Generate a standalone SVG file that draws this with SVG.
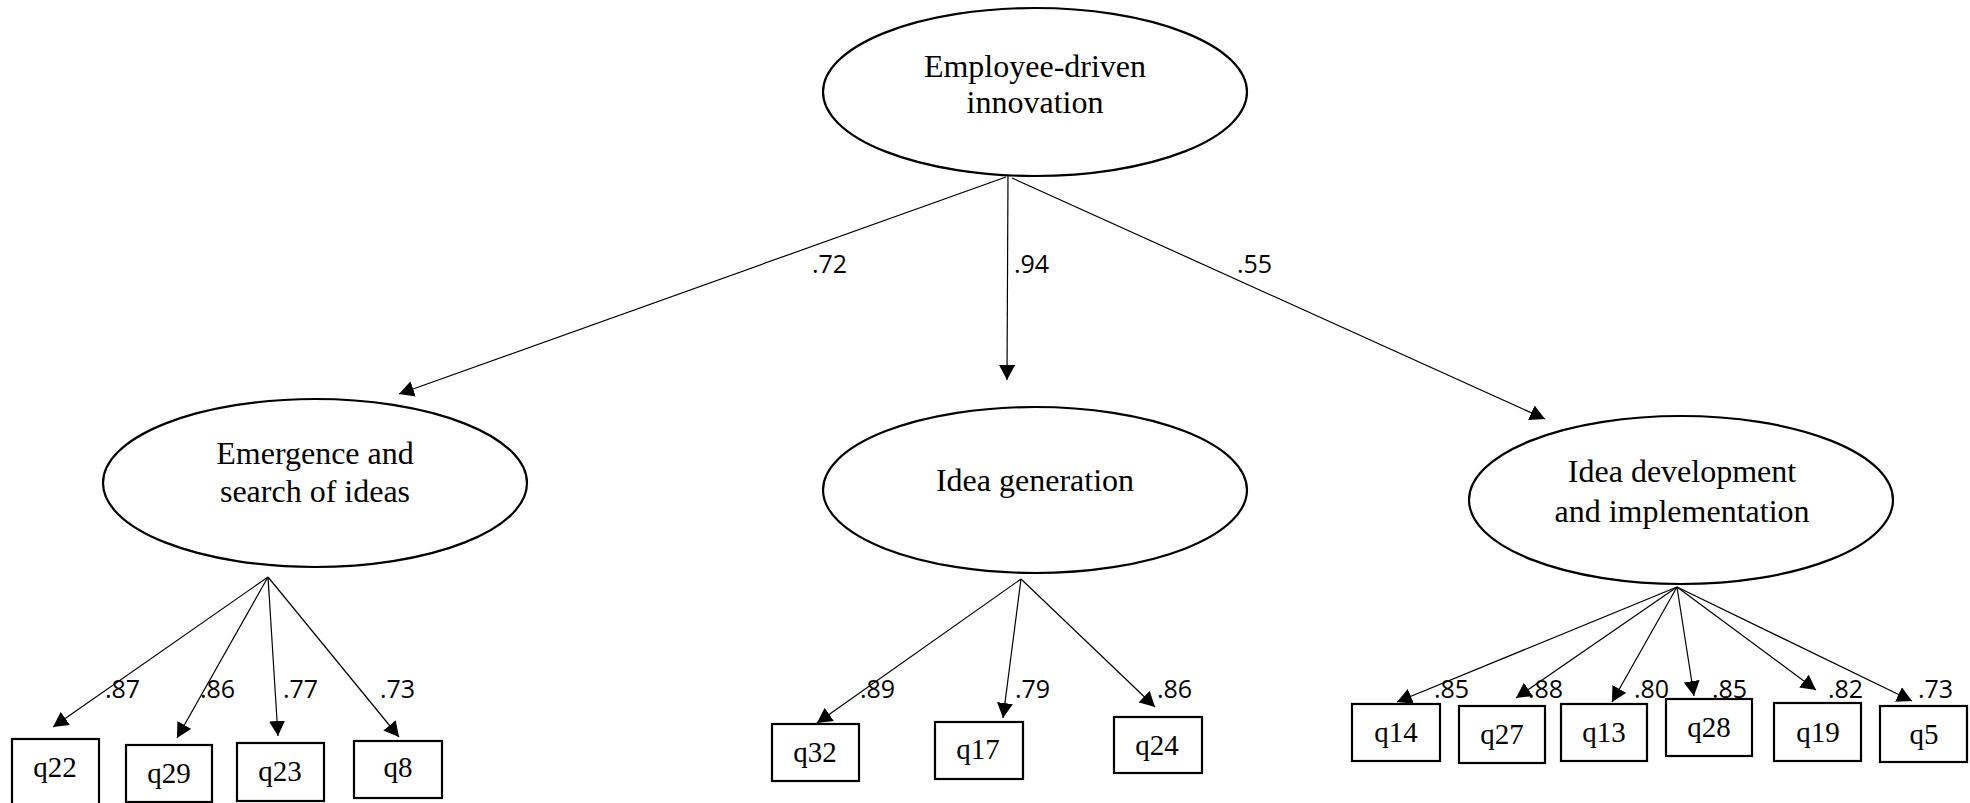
<svg xmlns="http://www.w3.org/2000/svg" width="1970" height="803" viewBox="0 0 1970 803">
  <style>
    .latent { fill: #ffffff; stroke: #000000; stroke-width: 2.2; }
    .item { fill: #ffffff; stroke: #000000; stroke-width: 2.2; }
    .lbl { font-family: "Liberation Serif", "Times New Roman", serif; font-size: 32px; fill: #000000; text-anchor: middle; }
    .qlbl { font-family: "Liberation Serif", "Times New Roman", serif; font-size: 29px; fill: #000000; text-anchor: middle; }
    .coef { font-family: "Open Sans", "Liberation Sans", sans-serif; font-size: 25px; fill: #000000; }
    .path { stroke: #000000; stroke-width: 1.2; fill: none; marker-end: url(#arrow); }
  </style>
  <defs>
    <marker id="arrow" viewBox="0 0 15 16" refX="15" refY="8" markerWidth="15" markerHeight="16" markerUnits="userSpaceOnUse" orient="auto">
      <path d="M0,0 L15,8 L0,16 z" fill="#000000"/>
    </marker>
  </defs>
  <rect width="1970" height="803" fill="#ffffff"/>

  <!-- paths between constructs and indicators -->
  <g id="connectors">
    <line class="path" x1="1006" y1="177" x2="399" y2="394"/>
    <line class="path" x1="1008" y1="175" x2="1007" y2="380"/>
    <line class="path" x1="1012" y1="178" x2="1545" y2="419"/>

    <line class="path" x1="268" y1="577" x2="53" y2="727"/>
    <line class="path" x1="268" y1="577" x2="177" y2="738"/>
    <line class="path" x1="268" y1="577" x2="278" y2="736"/>
    <line class="path" x1="268" y1="577" x2="399" y2="737"/>

    <line class="path" x1="1021" y1="579" x2="817" y2="723"/>
    <line class="path" x1="1021" y1="579" x2="1003" y2="718"/>
    <line class="path" x1="1021" y1="579" x2="1155" y2="707"/>

    <line class="path" x1="1677" y1="587" x2="1397" y2="702"/>
    <line class="path" x1="1677" y1="587" x2="1516" y2="698"/>
    <line class="path" x1="1677" y1="587" x2="1612" y2="702"/>
    <line class="path" x1="1677" y1="587" x2="1694" y2="696"/>
    <line class="path" x1="1677" y1="587" x2="1816" y2="690"/>
    <line class="path" x1="1677" y1="587" x2="1912" y2="701"/>

    <!-- standardized loadings -->
    <text class="coef" x="812" y="273">.72</text>
    <text class="coef" x="1014" y="273">.94</text>
    <text class="coef" x="1237" y="273">.55</text>

    <text class="coef" x="105" y="698">.87</text>
    <text class="coef" x="200" y="698">.86</text>
    <text class="coef" x="283" y="698">.77</text>
    <text class="coef" x="380" y="698">.73</text>

    <text class="coef" x="860" y="698">.89</text>
    <text class="coef" x="1015" y="698">.79</text>
    <text class="coef" x="1157" y="698">.86</text>

    <text class="coef" x="1434" y="698">.85</text>
    <text class="coef" x="1528" y="698">.88</text>
    <text class="coef" x="1634" y="698">.80</text>
    <text class="coef" x="1712" y="698">.85</text>
    <text class="coef" x="1828" y="698">.82</text>
    <text class="coef" x="1918" y="698">.73</text>
  </g>

  <!-- latent constructs -->
  <g id="edi">
    <ellipse class="latent" cx="1035" cy="92" rx="212" ry="84"/>
    <text class="lbl" x="1035" y="77">Employee-driven</text>
    <text class="lbl" x="1035" y="113">innovation</text>
  </g>
  <g id="emergence">
    <ellipse class="latent" cx="315" cy="483" rx="212" ry="84"/>
    <text class="lbl" x="315" y="464">Emergence and</text>
    <text class="lbl" x="315" y="502">search of ideas</text>
  </g>
  <g id="generation">
    <ellipse class="latent" cx="1035" cy="490" rx="212" ry="83"/>
    <text class="lbl" x="1035" y="491">Idea generation</text>
  </g>
  <g id="development">
    <ellipse class="latent" cx="1681" cy="500" rx="212" ry="84"/>
    <text class="lbl" x="1682" y="482">Idea development</text>
    <text class="lbl" x="1682" y="522">and implementation</text>
  </g>

  <!-- observed items -->
  <g id="q22"><rect class="item" x="12" y="739" width="87" height="70"/><text class="qlbl" x="55" y="777">q22</text></g>
  <g id="q29"><rect class="item" x="126" y="745" width="86" height="57"/><text class="qlbl" x="169" y="783">q29</text></g>
  <g id="q23"><rect class="item" x="237" y="743" width="87" height="58"/><text class="qlbl" x="280" y="781">q23</text></g>
  <g id="q8"><rect class="item" x="354" y="741" width="88" height="57"/><text class="qlbl" x="398" y="777">q8</text></g>

  <g id="q32"><rect class="item" x="772" y="724" width="87" height="57"/><text class="qlbl" x="815" y="762">q32</text></g>
  <g id="q17"><rect class="item" x="935" y="722" width="88" height="57"/><text class="qlbl" x="978" y="759">q17</text></g>
  <g id="q24"><rect class="item" x="1114" y="717" width="88" height="56"/><text class="qlbl" x="1157" y="755">q24</text></g>

  <g id="q14"><rect class="item" x="1352" y="704" width="88" height="57"/><text class="qlbl" x="1396" y="742">q14</text></g>
  <g id="q27"><rect class="item" x="1459" y="706" width="86" height="57"/><text class="qlbl" x="1502" y="744">q27</text></g>
  <g id="q13"><rect class="item" x="1561" y="704" width="86" height="57"/><text class="qlbl" x="1604" y="742">q13</text></g>
  <g id="q28"><rect class="item" x="1666" y="699" width="86" height="57"/><text class="qlbl" x="1709" y="737">q28</text></g>
  <g id="q19"><rect class="item" x="1774" y="703" width="87" height="58"/><text class="qlbl" x="1818" y="742">q19</text></g>
  <g id="q5"><rect class="item" x="1880" y="706" width="87" height="56"/><text class="qlbl" x="1924" y="744">q5</text></g>
</svg>
